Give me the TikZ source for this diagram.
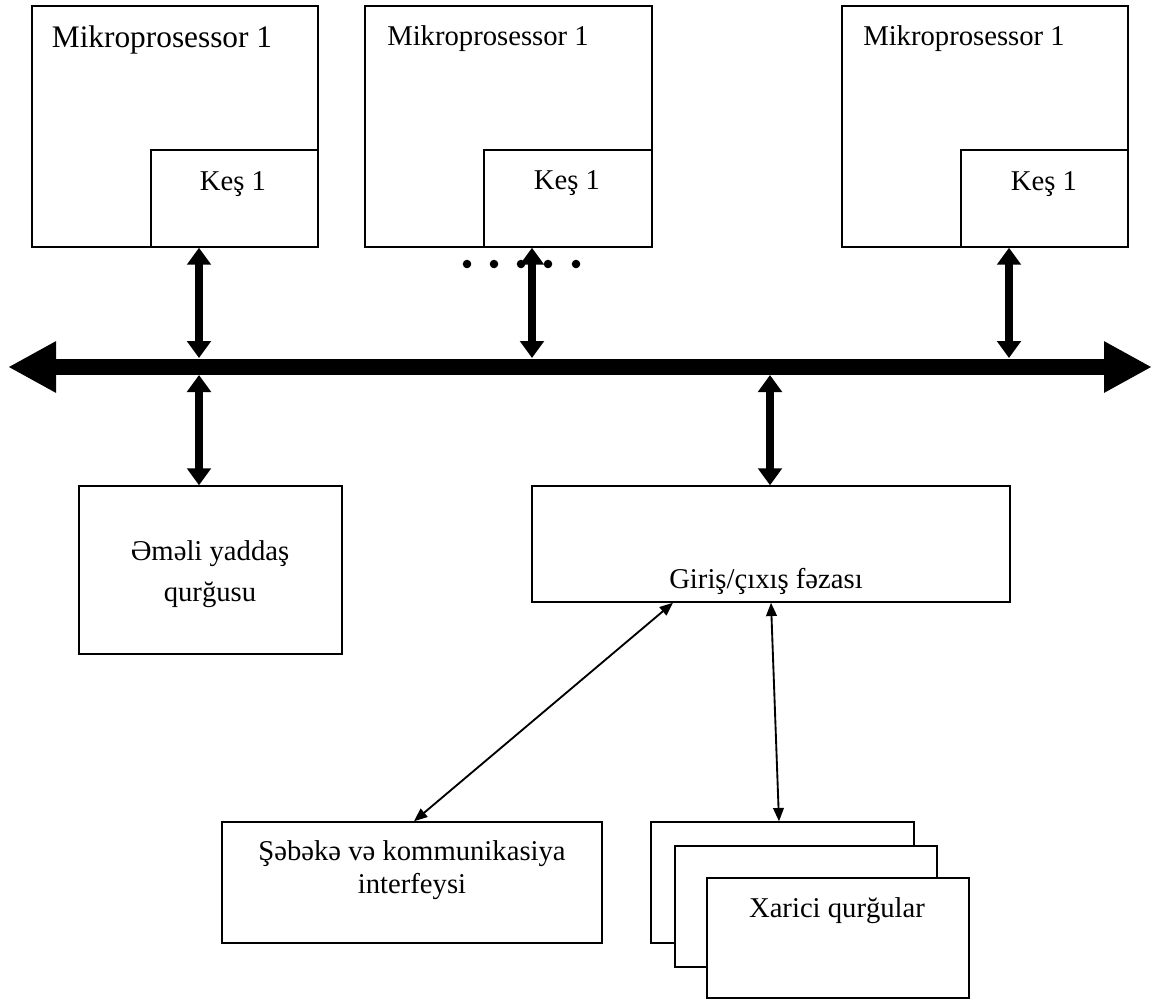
\documentclass[tikz,border=0pt]{standalone}
\usepackage{fontspec}
\setmainfont{Liberation Serif}
\usetikzlibrary{arrows.meta,fit}
\begin{document}
\begin{tikzpicture}[x=0.75pt,y=-0.75pt,
  box/.style={draw,line width=1.1pt,fill=white,inner sep=0pt,fit={#1}},
  txt/.style={anchor=base,inner sep=0pt,font=\fontsize{21.5pt}{26pt}\selectfont},
  bigtxt/.style={anchor=base,inner sep=0pt,font=\fontsize{23.5pt}{28pt}\selectfont},
  vbus/.style={line width=6pt,{Triangle[length=12.75pt,width=17.5pt]}-{Triangle[length=12.75pt,width=17.5pt]}},
  mainbus/.style={line width=12pt,{Triangle[length=36pt,width=36pt]}-{Triangle[length=36pt,width=36pt]}},
  thinarrow/.style={line width=1.4pt,{Triangle[length=10pt,width=8pt]}-{Triangle[length=10pt,width=8pt]}},
  dotmark/.style={fill=black}]
\useasboundingbox (0,0) rectangle (1155,1001);
% processors
\node[box={(32,6)(318,247)}] (p1) {};
\node[box={(151,150)(318,247)}] (k1) {};
\node[box={(365,6)(652,247)}] (p2) {};
\node[box={(484,150)(652,247)}] (k2) {};
\node[box={(842,6)(1128,247)}] (p3) {};
\node[box={(961,150)(1128,247)}] (k3) {};
\node[bigtxt] (t1) at (162,47) {Mikroprosessor 1};
\node[txt] (t2) at (488,45) {Mikroprosessor 1};
\node[txt] (t3) at (964,45) {Mikroprosessor 1};
\node[txt] (c1) at (233,190) {Keş 1};
\node[txt] (c2) at (567,189) {Keş 1};
\node[txt] (c3) at (1044,190) {Keş 1};
% memory
\node[box={(79,486)(342,654)}] (mem) {};
\node[txt] (m1) at (210,560) {Əməli yaddaş};
\node[txt] (m2) at (210,601) {qurğusu};
% io
\node[box={(532,486)(1010,602)}] (io) {};
\node[txt] (io1) at (766,588) {Giriş/çıxış fəzası};
% network
\node[box={(222,822)(602,943)}] (net) {};
\node[txt] (n1) at (412,860) {Şəbəkə və kommunikasiya};
\node[txt] (n2) at (412,893) {interfeysi};
% external devices
\node[box={(651,822)(914,943)}] (x1) {};
\node[box={(675,846)(937,967)}] (x2) {};
\node[box={(707,878)(969,998)}] (x3) {};
\node[txt] (xt) at (837,917) {Xarici qurğular};
% dots
\foreach \i/\xx in {1/467,2/494,3/521,4/548,5/576}
  \fill[dotmark] (\xx,264) circle (3.2pt);
% bus coordinates
\coordinate (busL) at (8,367);
\coordinate (busR) at (1152,367);
\coordinate (a1t) at (199,358);
\coordinate (a1b) at (199,375);
\coordinate (a2t) at (532,358);
\coordinate (a3t) at (1009,358);
\coordinate (a4b) at (770,375);
\coordinate (ioL) at (673,0);
\coordinate (ioR) at (771,0);
\coordinate (netT) at (414,0);
\coordinate (xT) at (779,0);
% vertical arrows
\draw[vbus] (k1.south -| a1t) -- (a1t);
\draw[vbus] (a1b) -- (mem.north -| a1b);
\draw[vbus] (k2.south -| a2t) -- (a2t);
\draw[vbus] (k3.south -| a3t) -- (a3t);
\draw[vbus] (a4b) -- (io.north -| a4b);
% main bus
\draw[mainbus] (busL) -- (busR);
% thin arrows
\draw[thinarrow] (io.south -| ioL) -- (net.north -| netT);
\draw[thinarrow] (io.south -| ioR) -- (x1.north -| xT);
\end{tikzpicture}
\end{document}
